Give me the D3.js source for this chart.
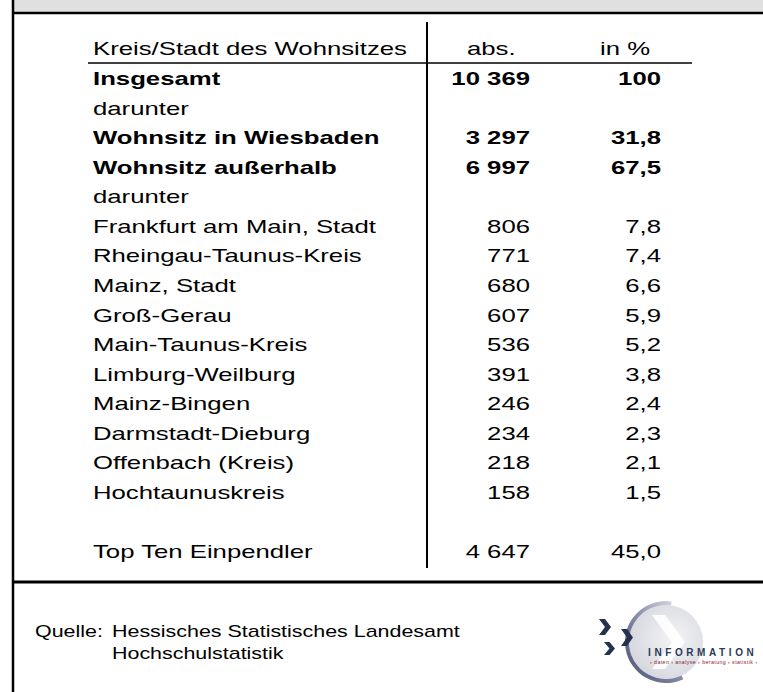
<!DOCTYPE html>
<html><head><meta charset="utf-8">
<script src="https://cdn.jsdelivr.net/npm/d3@7"></script>
<style>html,body{margin:0;padding:0;background:#fff;overflow:hidden}</style>
</head><body>
<svg id="chart" width="763" height="692"></svg>
<script>
const headers = ["Kreis/Stadt des Wohnsitzes", "abs.", "in %"];
const labels = ["Insgesamt", "darunter", "Wohnsitz in Wiesbaden", "Wohnsitz außerhalb", "darunter",
  "Frankfurt am Main, Stadt", "Rheingau-Taunus-Kreis", "Mainz, Stadt", "Groß-Gerau", "Main-Taunus-Kreis",
  "Limburg-Weilburg", "Mainz-Bingen", "Darmstadt-Dieburg", "Offenbach (Kreis)", "Hochtaunuskreis",
  "", "Top Ten Einpendler"];
const absValues = [10369, null, 3297, 6997, null, 806, 771, 680, 607, 536, 391, 246, 234, 218, 158, null, 4647];
const pctValues = [100, null, 31.8, 67.5, null, 7.8, 7.4, 6.6, 5.9, 5.2, 3.8, 2.4, 2.3, 2.1, 1.5, null, 45.0];
const boldRows = [1, 0, 1, 1, 0, 0, 0, 0, 0, 0, 0, 0, 0, 0, 0, 0, 0];
const sourceLines = ["Quelle:", "Hessisches Statistisches Landesamt", "Hochschulstatistik"];
const logoTitle = "INFORMATION";
const logoTagline = "› daten › analyse › beratung › statistik ›";

const W = 763, H = 692;
const FONT = "'Liberation Sans', Arial, sans-serif";
const SX = 1.43;
const svg = d3.select("#chart");

const loc = d3.formatLocale({decimal: ",", thousands: "\u00a0", grouping: [3], currency: ["", ""]});
const fAbs = loc.format(",d");
const fPct = v => v === 100 ? "100" : loc.format(".1f")(v);

// rows -> baseline y
const y = d3.scaleLinear().domain([0, labels.length - 1]).range([85, 558]);
// columns
const col = {label: 93, absRight: 530, pctRight: 661, absHead: 467, pctHead: 600};

function txt(g, x, yy, s, o = {}) {
  return g.append("text")
    .attr("transform", `translate(${x},${yy}) scale(${o.sx || SX},1)`)
    .attr("text-anchor", o.anchor || "start")
    .attr("font-family", FONT)
    .attr("font-size", o.size || 18)
    .attr("font-weight", o.bold ? "bold" : "normal")
    .attr("fill", o.fill || "#000")
    .text(s);
}

// frame
svg.append("rect").attr("x", 13).attr("y", 0).attr("width", W - 13).attr("height", 13).attr("fill", "#e0e0e0");
svg.append("line").attr("x1", 13).attr("x2", W).attr("y1", 13).attr("y2", 13).attr("stroke", "#000").attr("stroke-width", 2.5);
svg.append("line").attr("x1", 13).attr("x2", 13).attr("y1", 0).attr("y2", H).attr("stroke", "#000").attr("stroke-width", 2.5);
svg.append("line").attr("x1", 13).attr("x2", W).attr("y1", 582).attr("y2", 582).attr("stroke", "#000").attr("stroke-width", 3);

// table lines
svg.append("line").attr("x1", 427).attr("x2", 427).attr("y1", 22).attr("y2", 568).attr("stroke", "#000").attr("stroke-width", 2);
svg.append("line").attr("x1", 88).attr("x2", 692).attr("y1", 63).attr("y2", 63).attr("stroke", "#000").attr("stroke-width", 1.6);

const g = svg.append("g");
txt(g, col.label, 55, headers[0]);
txt(g, col.absHead, 55, headers[1]);
txt(g, col.pctHead, 55, headers[2]);

labels.forEach((lab, i) => {
  const b = !!boldRows[i];
  if (lab) txt(g, col.label, y(i), lab, {bold: b});
  if (absValues[i] != null) txt(g, col.absRight, y(i), fAbs(absValues[i]), {bold: b, anchor: "end"});
  if (pctValues[i] != null) txt(g, col.pctRight, y(i), fPct(pctValues[i]), {bold: b, anchor: "end"});
});

// source
txt(svg, 35, 637, sourceLines[0], {size: 16, sx: 1.34});
txt(svg, 112, 637, sourceLines[1], {size: 16, sx: 1.34});
txt(svg, 112, 659, sourceLines[2], {size: 16, sx: 1.34});

// logo
const defs = svg.append("defs");
const rg = defs.append("linearGradient").attr("id", "ring").attr("x1", "1").attr("y1", "0").attr("x2", "0").attr("y2", "1");
rg.append("stop").attr("offset", "0%").attr("stop-color", "#e4e6ec");
rg.append("stop").attr("offset", "55%").attr("stop-color", "#7c82a0");
rg.append("stop").attr("offset", "100%").attr("stop-color", "#4a5070");
const fg = defs.append("radialGradient").attr("id", "fill").attr("cx", "0.6").attr("cy", "0.45").attr("r", "0.6");
fg.append("stop").attr("offset", "0%").attr("stop-color", "#f4f4f6");
fg.append("stop").attr("offset", "100%").attr("stop-color", "#d6d8de");

const cx = 666, cy = 642;
const logo = svg.append("g");
logo.append("circle").attr("cx", cx).attr("cy", cy).attr("r", 37).attr("fill", "url(#fill)");
logo.append("path")
  .attr("d", `M${cx-14},${cy-27} L${cx-1},${cy-27} L${cx+19},${cy} L${cx-1},${cy+27} L${cx-14},${cy+27} L${cx+6},${cy} Z`)
  .attr("fill", "#fff").attr("opacity", 0.9);
const arc = d3.arc().innerRadius(37).outerRadius(41).startAngle(155 * Math.PI / 180).endAngle(368 * Math.PI / 180);
logo.append("path").attr("transform", `translate(${cx},${cy})`).attr("d", arc()).attr("fill", "url(#ring)");
function chevron(x, yy, w, h, t) {
  return `M${x},${yy} L${x+t},${yy} L${x+w},${yy+h/2} L${x+t},${yy+h} L${x},${yy+h} L${x+w-t},${yy+h/2} Z`;
}
logo.append("path").attr("d", chevron(599, 619, 12, 16, 6)).attr("fill", "#25324d");
logo.append("path").attr("d", chevron(621, 629, 12, 17, 6)).attr("fill", "#25324d");
logo.append("path").attr("d", chevron(604, 642, 11, 13, 5.5)).attr("fill", "#25324d");
logo.append("text").attr("x", 648).attr("y", 656).attr("font-family", FONT).attr("font-size", 10)
  .attr("font-weight", "bold").attr("letter-spacing", 3.6).attr("fill", "#2d3a58").text(logoTitle);
logo.append("text").attr("x", 650).attr("y", 663.5).attr("font-family", FONT).attr("font-size", 5.2)
  .attr("fill", "#8a2030").attr("textLength", 107).text(logoTagline);
</script>
</body></html>
